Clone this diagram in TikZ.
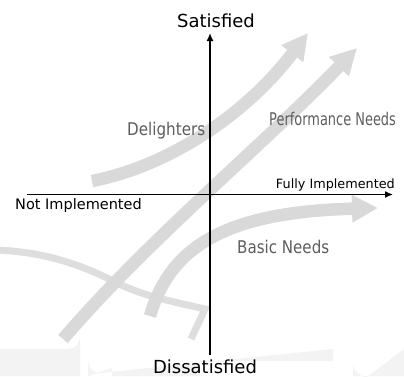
\documentclass[tikz,border=0pt]{standalone}
\usepackage{fontspec}
\setmainfont{DejaVu Sans}
\usetikzlibrary{arrows.meta}
\definecolor{bandgray}{HTML}{D9D9D9}
\definecolor{labelgray}{HTML}{5E5E5E}
\definecolor{markgray}{HTML}{F3F3F3}
\begin{document}
\begin{tikzpicture}[x=1pt,y=-1pt,
  band/.style={line width=12.5pt,draw=bandgray,-{Triangle[length=26pt,width=26pt]}},
  axis/.style={line width=1.4pt,draw=black,-{Latex[length=8pt,width=7pt]}},
  axislabel/.style={inner sep=0pt,text=black},
  curvelabel/.style={inner sep=0pt,text=labelgray,font=\fontsize{17.5}{20}\selectfont},
  faintline/.style={draw=black,opacity=0.13,line width=7pt,line join=miter},
  faintmark/.style={fill=markgray,draw=none}]
  \useasboundingbox (0,0) rectangle (404,376);
  \fill[white] (0,0) rectangle (404,376);

  % faint lettering along the bottom edge
  \fill[faintmark] (0,376) -- (0,349) -- (68,349) arc[start angle=90,end angle=0,radius=12] -- (80,376) -- cycle;
  \fill[faintmark] (88,376) -- (88,361) arc[start angle=180,end angle=90,radius=12] -- (333,349) -- (333,361) -- (200,361) -- (200,376) -- (112,376) -- (112,368) -- cycle;
  \fill[faintmark] (353,376) -- (353,363) arc[start angle=180,end angle=90,radius=14] -- (404,349) -- (404,376) -- cycle;

  % faint hooked stroke
  \draw[faintline] (-4,250) .. controls (50,252) and (88,268) .. (117,283)
        .. controls (146,297) and (175,302) .. (205,309) -- (191,339);

  % curves of the model
  \coordinate (dA) at (92,181);
  \coordinate (dB) at (308,33);
  \coordinate (pA) at (63,339);
  \coordinate (pB) at (357,48);
  \coordinate (bA) at (150,316);
  \coordinate (bB) at (378,208);
  \draw[band] (dA) .. controls (160,168) and (240,122) .. (dB);
  \draw[band] (pA) .. controls (150,238) and (260,148) .. (pB);
  \draw[band] (bA) .. controls (170,247) and (225,212) .. (bB);

  % axes
  \coordinate (ytop) at (210,33);
  \coordinate (ybot) at (210,355);
  \coordinate (xl) at (27,194.5);
  \coordinate (xr) at (393,194.5);
  \draw[axis] (ybot) -- (ytop);
  \draw[axis] (xl) -- (xr);

  % axis labels
  \node[axislabel,anchor=base,font=\fontsize{18}{21}\selectfont] (sat) at (216,27) {Satisfied};
  \node[axislabel,anchor=base,font=\fontsize{18}{21}\selectfont] (dis) at (205,373) {Dissatisfied};
  \node[axislabel,anchor=base west,font=\fontsize{14.5}{17}\selectfont] (notimp) at (15,209) {Not Implemented};
  \node[axislabel,anchor=base east,font=\fontsize{12.8}{15}\selectfont] (fullimp) at (395,188) {Fully Implemented};

  % curve labels
  \node[curvelabel,anchor=base west] (del) at (127,135) {\scalebox{0.866}[1]{Delighters}};
  \node[curvelabel,anchor=base west] (perf) at (269,125) {\scalebox{0.74}[1]{Performance Needs}};
  \node[curvelabel,anchor=base west] (basic) at (237,253) {\scalebox{0.862}[1]{Basic Needs}};
\end{tikzpicture}
\end{document}
